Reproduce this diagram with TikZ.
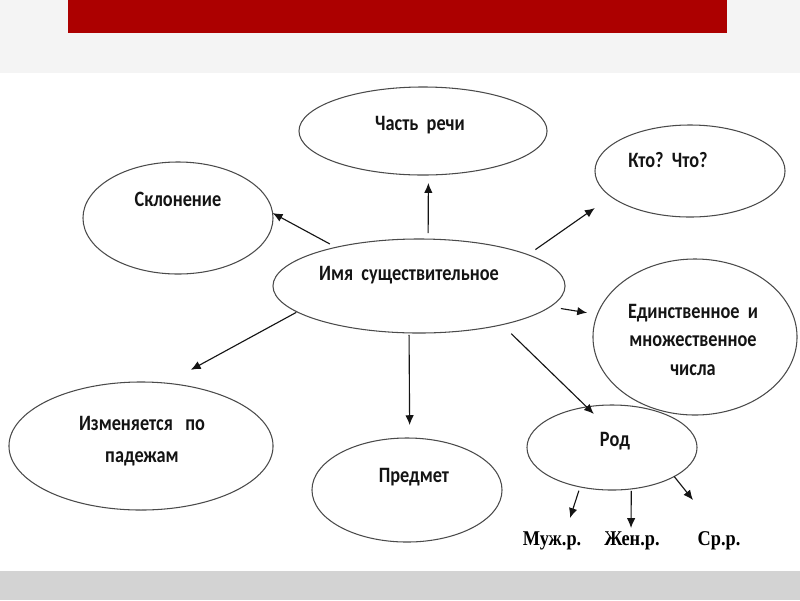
\documentclass[tikz,border=0pt]{standalone}
\usepackage{fontspec}
\setmainfont{Carlito}
\newfontfamily\serifbold{Liberation Serif}
\usetikzlibrary{arrows.meta,shapes.geometric}
\definecolor{barred}{HTML}{AC0000}
\definecolor{topgray}{HTML}{F4F4F4}
\definecolor{botgray}{HTML}{D3D3D3}
\definecolor{outl}{HTML}{4A4A4A}
\definecolor{inkc}{HTML}{141414}
\newcommand{\tallt}[1]{\scalebox{1}[1.2]{#1}}
\tikzset{
  oval/.style={ellipse, draw=outl, line width=0.75pt, inner sep=0pt, outer sep=0pt},
  txt/.style={anchor=base, text=inkc, font=\fontsize{13}{15}\selectfont\bfseries, inner sep=0pt},
  gtxt/.style={anchor=base, text=black, font=\fontsize{13}{15}\selectfont\serifbold\bfseries, inner sep=0pt},
  arr/.style={draw=inkc, line width=0.8pt, -{Latex[length=7pt,width=6pt]}}
}
\begin{document}
\begin{tikzpicture}[x=0.025cm,y=-0.025cm]
\useasboundingbox (0,0) rectangle (800,600);
\fill[white] (0,0) rectangle (800,600);
\fill[topgray] (0,0) rectangle (800,73);
\fill[barred] (68,0) rectangle (727,33);
\fill[botgray] (0,571) rectangle (800,600);

% ellipses
\node[oval, minimum width=6.2cm, minimum height=2.2cm] (chast) at (423,131) {};
\node[oval, minimum width=4.75cm, minimum height=2.3cm] (kto) at (690,171) {};
\node[oval, minimum width=4.75cm, minimum height=2.8cm] (sklon) at (178,218) {};
\node[oval, minimum width=7.3cm, minimum height=2.35cm] (imya) at (419,286) {};
\node[oval, minimum width=5.1cm, minimum height=3.9cm] (edin) at (695,337) {};
\node[oval, minimum width=6.6cm, minimum height=3.2cm] (izm) at (141,446) {};
\node[oval, minimum width=4.75cm, minimum height=2.6cm] (predm) at (407,490) {};
\node[oval, minimum width=4.25cm, minimum height=2.125cm] (rod) at (612,447.5) {};

% texts
\node[txt] (tchast) at (420,130) {\tallt{Часть\ \ речи}};
\node[txt] (tkto) at (668,167) {\tallt{Кто?\ \ Что?}};
\node[txt] (tsklon) at (178,206) {\tallt{Склонение}};
\node[txt] (timya) at (409,280) {\tallt{Имя\ \ существительное}};
\node[txt] (tedin1) at (693,318) {\tallt{Единственное\ \ и}};
\node[txt] (tedin2) at (693,346) {\tallt{множественное}};
\node[txt] (tedin3) at (693,375) {\tallt{числа}};
\node[txt] (tizm1) at (142,430) {\tallt{Изменяется\ \ \ по}};
\node[txt] (tizm2) at (142,462) {\tallt{падежам}};
\node[txt] (tpredm) at (414,482) {\tallt{Предмет}};
\node[txt] (trod) at (615,446) {\tallt{Род}};

\node[gtxt] (muzh) at (552,545) {\scalebox{1}[1.15]{Муж.р.}};
\node[gtxt] (zhen) at (632,545) {\scalebox{1}[1.15]{Жен.р.}};
\node[gtxt] (sred) at (719,545) {\scalebox{1}[1.15]{Ср.р.}};

% free ends of the gender arrows
\coordinate (tm) at (570,518);
\coordinate (tf) at (631,528);
\coordinate (tn) at (693,500);

% connectors
\draw[arr, shorten <=4.3pt, shorten >=5.7pt] (imya.79) -- (chast.-83.5);
\draw[arr, shorten <=5pt] (imya.155) -- (sklon.3);
\draw[arr, shorten <=6.4pt, shorten >=14.2pt] (imya.16.5) -- (kto.198);
\draw[arr, shorten <=7.8pt, shorten >=7.4pt] (imya.-9.3) -- (edin.167);
\draw[arr, shorten <=0.7pt, shorten >=19.8pt] (imya.192.3) -- (izm.68.8);
\draw[arr, shorten <=1.4pt, shorten >=9.2pt] (imya.-102) -- (predm.87.8);
\draw[arr, shorten <=9.2pt, shorten >=-7.1pt] (imya.-25.6) -- (rod.122.6);
\draw[arr, shorten <=2.8pt] (rod.-129) -- (tm);
\draw[arr, shorten <=1.4pt] (rod.-65.3) -- (tf);
\draw[arr] (rod.-25) -- (tn);
\end{tikzpicture}
\end{document}
